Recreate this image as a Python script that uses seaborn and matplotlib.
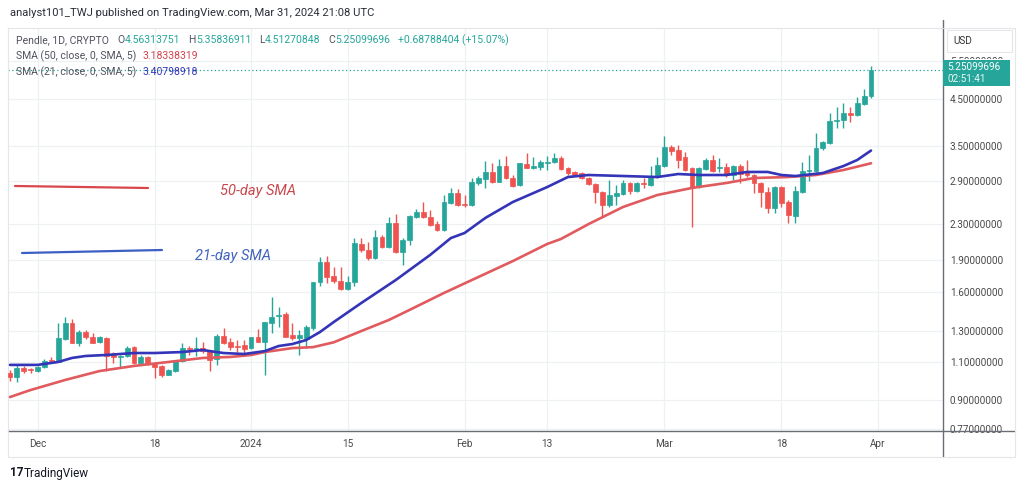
import numpy as np
import pandas as pd
import matplotlib
matplotlib.use("Agg")
import matplotlib.pyplot as plt
import matplotlib.dates as mdates
from matplotlib.lines import Line2D
from matplotlib.patches import Rectangle
from matplotlib.ticker import NullLocator
from matplotlib.transforms import Bbox
import seaborn as sns

# ---------------- data ----------------
start_date = "2023-11-27"
opens = [1.037, 1.015, 1.065, 1.060, 1.048, 1.071, 1.112, 1.100, 1.244, 1.355,
         1.217, 1.291, 1.257, 1.224, 1.250, 1.148, 1.130, 1.136, 1.192, 1.095,
         1.130, 1.089, 1.077, 1.026, 1.048, 1.106, 1.186, 1.179, 1.186, 1.173,
         1.118, 1.264, 1.224, 1.198, 1.204, 1.186, 1.257, 1.224, 1.355, 1.407,
         1.422, 1.271, 1.250, 1.244, 1.319, 1.687, 1.878, 1.743, 1.696, 1.626,
         1.687, 2.068, 2.002, 1.919, 2.147, 2.035, 2.314, 1.981, 2.112, 2.389,
         2.453, 2.389, 2.301, 2.228, 2.574, 2.716, 2.561, 2.547, 2.865, 2.927,
         3.039, 2.880, 3.137, 2.942, 2.835, 3.171, 3.104, 3.120, 3.195, 3.205,
         3.275, 3.104, 3.039, 3.022, 2.942, 2.850, 2.731, 2.547, 2.673, 2.702,
         2.865, 2.745, 2.865, 2.835, 2.958, 3.137, 3.473, 3.418, 3.292, 3.104,
         2.805, 3.087, 3.240, 3.104, 3.120, 2.990, 3.137, 3.039, 2.990, 2.865,
         2.731, 2.507, 2.805, 2.588, 2.401, 2.731, 3.055, 3.055, 3.455, 3.548,
         3.991, 4.012, 4.165, 4.121, 4.370, 4.56313751]
highs = [1.054, 1.083, 1.077, 1.068, 1.077, 1.118, 1.130, 1.355, 1.399, 1.384,
         1.305, 1.305, 1.285, 1.264, 1.257, 1.160, 1.142, 1.198, 1.195, 1.142,
         1.136, 1.092, 1.083, 1.057, 1.114, 1.217, 1.198, 1.257, 1.224, 1.175,
         1.278, 1.319, 1.250, 1.237, 1.237, 1.260, 1.312, 1.365, 1.557, 1.477,
         1.437, 1.355, 1.305, 1.341, 1.690, 1.929, 1.940, 1.829, 1.829, 1.743,
         2.135, 2.135, 2.090, 2.228, 2.170, 2.389, 2.427, 2.135, 2.414, 2.493,
         2.588, 2.480, 2.338, 2.687, 2.790, 2.775, 2.687, 2.942, 2.974, 3.223,
         3.188, 3.257, 3.310, 2.990, 3.195, 3.364, 3.292, 3.240, 3.310, 3.364,
         3.310, 3.120, 3.055, 3.039, 2.958, 2.865, 2.740, 2.911, 2.835, 2.911,
         2.880, 2.880, 2.942, 3.137, 3.292, 3.683, 3.510, 3.510, 3.382, 3.120,
         3.120, 3.275, 3.328, 3.275, 3.188, 3.154, 3.171, 3.240, 3.000, 2.880,
         2.805, 2.820, 2.820, 2.616, 2.820, 3.205, 3.328, 3.743, 3.586, 4.165,
         4.301, 4.394, 4.301, 4.538, 4.736, 5.35836911]
lows = [0.994, 0.988, 1.037, 1.037, 1.043, 1.065, 1.095, 1.098, 1.237, 1.215,
        1.198, 1.244, 1.215, 1.217, 1.048, 1.095, 1.071, 1.130, 1.089, 1.089,
        1.083, 1.010, 1.015, 1.024, 1.043, 1.100, 1.142, 1.136, 1.154, 1.048,
        1.083, 1.211, 1.173, 1.160, 1.154, 1.179, 1.222, 1.026, 1.285, 1.327,
        1.255, 1.237, 1.142, 1.186, 1.305, 1.652, 1.679, 1.679, 1.617, 1.617,
        1.652, 1.981, 1.898, 1.908, 2.024, 2.024, 1.975, 1.848, 2.057, 2.376,
        2.376, 2.277, 2.216, 2.222, 2.561, 2.534, 2.520, 2.534, 2.835, 2.790,
        2.865, 2.875, 2.927, 2.805, 2.820, 3.100, 3.087, 3.071, 3.071, 3.188,
        3.071, 2.990, 2.974, 2.927, 2.835, 2.574, 2.401, 2.520, 2.547, 2.687,
        2.702, 2.731, 2.790, 2.820, 2.942, 3.120, 3.328, 3.104, 3.055, 2.265,
        2.790, 3.071, 3.039, 3.039, 2.958, 2.911, 2.865, 2.958, 2.716, 2.520,
        2.440, 2.440, 2.520, 2.314, 2.314, 2.716, 2.896, 3.039, 3.418, 3.529,
        3.844, 3.844, 3.970, 4.099, 4.347, 4.51270848]
closes = [1.015, 1.065, 1.048, 1.054, 1.071, 1.106, 1.106, 1.250, 1.355, 1.217,
          1.291, 1.257, 1.217, 1.257, 1.136, 1.130, 1.136, 1.186, 1.095, 1.130,
          1.089, 1.071, 1.026, 1.054, 1.112, 1.186, 1.179, 1.186, 1.166, 1.112,
          1.264, 1.217, 1.192, 1.192, 1.179, 1.257, 1.224, 1.362, 1.399, 1.414,
          1.257, 1.250, 1.271, 1.327, 1.687, 1.878, 1.733, 1.696, 1.626, 1.687,
          2.079, 2.002, 1.919, 2.147, 2.035, 2.314, 1.981, 2.112, 2.401, 2.453,
          2.389, 2.289, 2.228, 2.588, 2.716, 2.547, 2.547, 2.880, 2.942, 3.039,
          2.880, 3.137, 2.942, 2.820, 3.188, 3.104, 3.137, 3.205, 3.205, 3.275,
          3.087, 3.022, 2.990, 2.942, 2.850, 2.731, 2.547, 2.687, 2.716, 2.865,
          2.745, 2.865, 2.850, 2.958, 3.154, 3.473, 3.400, 3.240, 3.071, 2.805,
          3.104, 3.240, 3.055, 3.120, 2.990, 3.137, 3.006, 2.990, 2.865, 2.731,
          2.507, 2.805, 2.574, 2.414, 2.745, 3.055, 3.071, 3.455, 3.567, 3.991,
          4.012, 4.165, 4.121, 4.394, 4.56311292, 5.25099696]

# SMA curves: day index into the candle dates, value
sma21_day = [0, 4, 7, 9, 11, 14, 18, 21, 25, 28, 29, 31, 34, 35, 37, 39, 41, 43, 45,
             47, 51, 56, 61, 64, 66, 69, 73, 78, 81, 84, 89, 94, 97, 100, 104, 107,
             110, 112, 114, 118, 121, 123, 125]
sma21_val = [1.083, 1.083, 1.100, 1.124, 1.136, 1.142, 1.154, 1.154, 1.160, 1.173,
             1.166, 1.154, 1.148, 1.154, 1.166, 1.198, 1.211, 1.237, 1.291, 1.362,
             1.508, 1.705, 1.950, 2.134, 2.193, 2.376, 2.588, 2.804, 2.958, 2.990,
             2.974, 2.958, 3.006, 2.990, 2.990, 3.039, 3.039, 2.990, 2.974, 3.022,
             3.137, 3.240, 3.40798918]
sma50_day = [0, 3, 8, 13, 18, 23, 28, 32, 35, 37, 41, 44, 47, 51, 55, 58, 63, 68,
             73, 78, 80, 84, 89, 94, 99, 104, 108, 113, 117, 121, 125]
sma50_val = [0.912, 0.947, 0.999, 1.048, 1.077, 1.100, 1.124, 1.130, 1.142, 1.160,
             1.185, 1.191, 1.222, 1.298, 1.377, 1.453, 1.591, 1.733, 1.887, 2.068,
             2.124, 2.300, 2.520, 2.687, 2.790, 2.865, 2.942, 2.958, 2.990, 3.071,
             3.18338319]

price_ticks = [0.77, 0.9, 1.1, 1.3, 1.6, 1.9, 2.3, 2.9, 3.5, 4.5, 5.5]
date_ticks = ["2023-12-01", "2023-12-18", "2024-01-01", "2024-01-15", "2024-02-01",
              "2024-02-13", "2024-03-01", "2024-03-18", "2024-04-01"]
date_labels = ["Dec", "18", "2024", "15", "Feb", "13", "Mar", "18", "Apr"]

# ---------------- style ----------------
W, H = 1024, 491
UP, DN = "#26a69a", "#ef5350"
C50, C21 = "#e05a5e", "#3434b8"
GRID = "#eef0f3"
TXT = "#4a4a4a"

sns.set_theme(style="white")
plt.rcParams['font.family'] = ['Roboto', 'DejaVu Sans']

fig = plt.figure(figsize=(W / 100, H / 100), dpi=100)
fig.patch.set_facecolor("white")
L, R, T, B = 8, 943, 28, 431
ax = fig.add_axes([L / W, 1 - B / H, (R - L) / W, (B - T) / H])
ax.set_facecolor("white")


def fx(px):
    return px / W


def fy(py):
    return 1 - py / H


dates = pd.date_range(start_date, periods=len(closes), freq="D")
xs = mdates.date2num(dates)
o, h, lo, c = (np.array(v) for v in (opens, highs, lows, closes))
col = np.where(c >= o, UP, DN)

ax.set_yscale("log")
ax.vlines(xs, lo, h, colors=col, lw=1.0, zorder=3)
ax.bar(xs, np.abs(c - o), bottom=np.minimum(o, c), width=0.7, color=col,
       edgecolor=col, linewidth=0.5, zorder=4)

sns.lineplot(x=xs[sma50_day], y=sma50_val, ax=ax, color=C50, lw=1.9,
             estimator=None, sort=False, zorder=5)
sns.lineplot(x=xs[sma21_day], y=sma21_val, ax=ax, color=C21, lw=1.9,
             estimator=None, sort=False, zorder=5)

ax.axhline(closes[-1], color=UP, lw=0.9, ls=(0, (1, 2)), zorder=2)

ax.set_ylim(0.7605, 6.563)
ax.set_xlim(xs[0] - 0.29, xs[0] + 135.45)

ax.set_yticks(price_ticks)
ax.set_yticklabels([f"{v:.8f}" for v in price_ticks])
ax.yaxis.set_minor_locator(NullLocator())
ax.yaxis.tick_right()
ax.tick_params(axis="y", which="both", length=0, pad=5, labelsize=7.2,
               labelcolor=TXT)
ax.set_xticks(mdates.date2num(pd.to_datetime(date_ticks)))
ax.set_xticklabels(date_labels)
ax.xaxis.set_minor_locator(NullLocator())
ax.tick_params(axis="x", which="both", length=0, pad=6, labelsize=7.2,
               labelcolor=TXT)
ax.grid(True, color=GRID, lw=0.9, zorder=0)
ax.set_axisbelow(True)
for s in ("top", "left"):
    ax.spines[s].set_color("#e4e6ea")
    ax.spines[s].set_linewidth(0.8)
for s in ("bottom", "right"):
    ax.spines[s].set_visible(False)
ax.set_xlabel("")
ax.set_ylabel("")

# the top price label is partly hidden behind the last-price tag: clip only it
top_lab = ax.yaxis.get_major_ticks()[-1].label2
top_lab.set_clip_box(Bbox.from_extents(R, H - 59, 1015, H))
top_lab.set_clip_on(True)

# panel frame lines
fig.add_artist(Line2D([fx(L), fx(1015)], [fy(B), fy(B)], color="#6a6d73", lw=1.0))
fig.add_artist(Line2D([fx(R), fx(R)], [fy(20), fy(457)], color="#6a6d73", lw=1.0))
fig.add_artist(Line2D([fx(L), fx(1015)], [fy(457), fy(457)], color="#e4e6ea", lw=0.8))
fig.add_artist(Line2D([fx(L), fx(L)], [fy(B), fy(457)], color="#e4e6ea", lw=0.8))
fig.add_artist(Line2D([fx(1015), fx(1015)], [fy(T), fy(457)], color="#e4e6ea", lw=0.8))
fig.add_artist(Line2D([fx(R), fx(1015)], [fy(T), fy(T)], color="#e4e6ea", lw=0.8))

# USD box
fig.add_artist(Rectangle((fx(947), fy(52)), fx(65), 22 / H, facecolor="white",
                         edgecolor="#e4e6ea", lw=0.8))
fig.text(fx(953), fy(41), "USD", fontsize=7.2, color="#333333", va="center")

# last-price label
fig.add_artist(Rectangle((fx(R), fy(86)), fx(67), 26 / H, facecolor=UP,
                         edgecolor=UP, lw=0, zorder=10))
fig.text(fx(947), fy(66.5), f"{closes[-1]:.8f}", fontsize=7.2, color="white",
         va="center", zorder=11)
fig.text(fx(947), fy(79.5), "02:51:41", fontsize=7.2, color="#e8f6f4",
         va="center", zorder=11)

# title
fig.text(fx(10), fy(13), "analyst101_TWJ published on TradingView.com, Mar 31, 2024 21:08 UTC",
         fontsize=8.1, color="#2a2e39", va="center")


def chain(parts, x0, y0, size=7.5):
    prev = fig.text(fx(x0), fy(y0), parts[0][0], color=parts[0][1], fontsize=size,
                    va="center", ha="left")
    for txt, color, gap in parts[1:]:
        prev = ax.annotate(txt, xy=(1, 0.5), xycoords=prev, xytext=(gap, 0),
                           textcoords="offset pixels", va="center", ha="left",
                           color=color, fontsize=size, annotation_clip=False)


GRAY = "#50535e"
chg = closes[-1] - closes[-2]
pct = chg / closes[-2] * 100
chain([("Pendle, 1D, CRYPTO", GRAY, 0),
       ("O", GRAY, 9), (f"{opens[-1]:.8f}", UP, 0),
       ("H", GRAY, 8), (f"{highs[-1]:.8f}", UP, 0),
       ("L", GRAY, 8), (f"{lows[-1]:.8f}", UP, 0),
       ("C", GRAY, 8), (f"{closes[-1]:.8f}", UP, 0),
       (f"{chg:+.8f} ({pct:+.2f}%)", UP, 8)], 16, 40)
chain([("SMA (50, close, 0, SMA, 5)", GRAY, 0),
       (f"{sma50_val[-1]:.8f}", "#d2424c", 6)], 16, 56)
chain([("SMA (21, close, 0, SMA, 5)", GRAY, 0),
       (f"{sma21_val[-1]:.8f}", C21, 6)], 16, 72)

# hand-drawn annotations
fig.add_artist(Line2D([fx(15), fx(148)], [fy(186), fy(188)], color="#d9464b", lw=1.6))
fig.text(fx(220), fy(191), "50-day SMA", fontsize=10.5, style="italic",
         color="#c9474c", va="center")
fig.add_artist(Line2D([fx(22), fx(162)], [fy(253), fy(250)], color="#3b5fc2", lw=1.6))
fig.text(fx(195), fy(256), "21-day SMA", fontsize=10.5, style="italic",
         color="#3e62bd", va="center")

# footer logo
fig.text(fx(10), fy(473), "17", fontsize=8.5, fontweight="bold", color="#131722",
         va="center")
fig.text(fx(24), fy(473), "TradingView", fontsize=8.5, color="#131722", va="center")

fig.savefig("out.png", dpi=100, facecolor="white")
